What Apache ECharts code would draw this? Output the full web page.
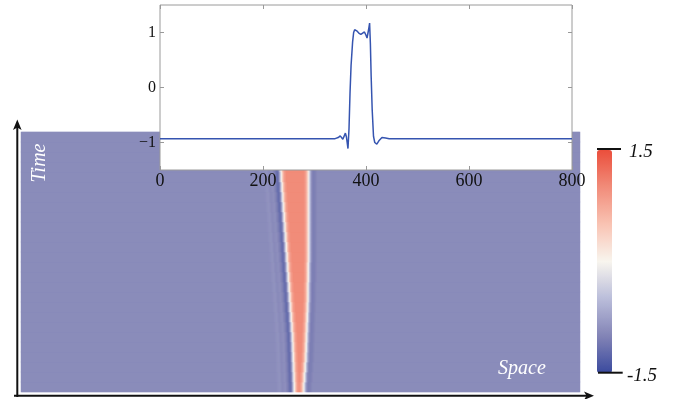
<!DOCTYPE html>
<html><head><meta charset="utf-8">
<script src="https://cdn.jsdelivr.net/npm/echarts@6/dist/echarts.min.js"></script>
<style>html,body{margin:0;padding:0;background:#fff}#c{width:690px;height:399px}</style>
</head><body><div id="c"></div>
<script>
// ---- inset: profile at final time (space, value) ----
const profileX = [0, 340, 346, 350, 355, 360, 362, 365, 367, 369, 371, 374, 376, 378, 382, 386, 390, 393, 397, 400, 402, 405, 407, 408.5, 410, 412, 414.6, 417, 421, 425, 431, 438, 445, 800];
const profileY = [-0.93, -0.93, -0.91, -0.88, -0.94, -0.83, -0.9, -1.11, -0.75, -0.09, 0.4, 0.83, 1.0, 1.05, 1.03, 0.99, 0.965, 0.98, 1.01, 0.95, 0.9, 1.05, 1.17, 0.8, 0.21, -0.4, -0.89, -1.0, -1.03, -0.97, -0.91, -0.92, -0.93, -0.93];
const insetXTicks = [0, 200, 400, 600, 800];
const insetYTicks = [-1, 0, 1];
const arrowLeft = [[351, 0.4], [298, 0.4]];
const arrowRight = [[427, 0.4], [450, 0.4]];

// ---- space-time map ----
const spaceMax = 800;
const nCols = 559;                // one column per screen pixel of the map
// front positions (space units) per time row, row 0 = first time (bottom)
const leftFront  = [391.5, 391, 390.5, 390, 389.5, 389, 388, 387, 386, 385, 384, 383, 382, 381, 380, 379, 378, 377, 376, 375, 374, 373, 372.5, 372, 371, 370.5];
const rightFront = [405, 406, 407, 408, 408.5, 409, 409.5, 410, 410.5, 411, 411, 411.5, 411.5, 412, 412, 412, 412, 412, 412, 412, 412, 412, 412, 412, 412, 412];
// value profile across each front (offset from the front in space units)
const leftOffsets  = [-26, -21, -17, -13, -9, -6, -4, -2, 0, 2, 4, 7];
const leftValues   = [-0.93, -0.87, -0.95, -0.9, -1.05, -1.22, -1.1, -0.55, 0, 0.5, 0.82, 1.0];
const rightOffsets = [-7, -4, -2, 0, 2, 4, 6, 9, 13];
const rightValues  = [1.0, 0.8, 0.45, 0, -0.5, -0.9, -1.05, -1.03, -0.93];
const baseValue = -0.93;
const plateauValue = 1.0;
const colorStops = ['#3a4a9e', '#8384b6', '#babdda', '#f8f5ee', '#f9c3b3', '#f18c7a', '#eb4e3b'];

function profileAt(offs, vals, d, below, above) {
  if (d <= offs[0]) return below;
  if (d >= offs[offs.length - 1]) return above;
  let i = 0;
  while (offs[i + 1] < d) i++;
  const t = (d - offs[i]) / (offs[i + 1] - offs[i]);
  return vals[i] + t * (vals[i + 1] - vals[i]);
}

const spaceBins = [];
for (let i = 0; i < nCols; i++) spaceBins.push(((i + 0.5) * spaceMax / nCols).toFixed(2));
const timeRows = leftFront.map((_, i) => String(i));
const heat = [];
for (let r = 0; r < timeRows.length; r++) {
  for (let c = 0; c < nCols; c++) {
    const x = (c + 0.5) * spaceMax / nCols;
    const a = profileAt(leftOffsets, leftValues, x - leftFront[r], baseValue, plateauValue);
    const b = profileAt(rightOffsets, rightValues, x - rightFront[r], plateauValue, baseValue);
    heat.push([c, r, Math.min(a, b)]);
  }
}
const profile = profileX.map((x, i) => [x, profileY[i]]);

const serif = 'Liberation Serif, DejaVu Serif, serif';
const fmtY = v => v < 0 ? '\u2212' + Math.abs(v) : String(v);
const tickStyle = {inside: true, length: 4, lineStyle: {color: '#999', width: 1}};
const noLine = {show: false, onZero: false};

const chart = echarts.init(document.getElementById('c'), null, {renderer: 'canvas'});
chart.setOption({
  animation: false,
  backgroundColor: '#fff',
  grid: [
    {left: 21, top: 132, width: 559, height: 260, show: true, backgroundColor: '#8b8cbb', borderWidth: 0},
    {left: 160, top: 5, width: 412, height: 165, show: true, backgroundColor: '#fff', borderColor: '#9a9a9a', borderWidth: 1, z: 10}
  ],
  xAxis: [
    {type: 'category', gridIndex: 0, data: spaceBins, show: false},
    {type: 'value', gridIndex: 1, min: 0, max: 800, interval: 200, position: 'bottom', z: 12,
     axisLine: noLine, axisTick: Object.assign({customValues: insetXTicks}, tickStyle), splitLine: {show: false},
     axisLabel: {customValues: insetXTicks, color: '#111', fontFamily: serif, fontSize: 18, margin: 2}},
    {type: 'value', gridIndex: 1, min: 0, max: 800, interval: 200, position: 'top', z: 12,
     axisLine: noLine, axisTick: Object.assign({customValues: insetXTicks}, tickStyle), splitLine: {show: false},
     axisLabel: {show: false}}
  ],
  yAxis: [
    {type: 'category', gridIndex: 0, data: timeRows, show: false},
    {type: 'value', gridIndex: 1, min: -1.5, max: 1.5, position: 'left', z: 12,
     axisLine: noLine, axisTick: Object.assign({customValues: insetYTicks}, tickStyle), splitLine: {show: false},
     axisLabel: {customValues: insetYTicks, formatter: fmtY, color: '#111', fontFamily: serif, fontSize: 16, margin: 4}},
    {type: 'value', gridIndex: 1, min: -1.5, max: 1.5, position: 'right', z: 12,
     axisLine: noLine, axisTick: Object.assign({customValues: insetYTicks}, tickStyle), splitLine: {show: false},
     axisLabel: {show: false}}
  ],
  visualMap: {
    type: 'continuous', min: -1.5, max: 1.5, seriesIndex: 0, calculable: false,
    left: 597, top: 150, itemWidth: 15, itemHeight: 223, padding: 0,
    inRange: {color: colorStops}, textStyle: {color: 'transparent'}
  },
  series: [
    {type: 'heatmap', xAxisIndex: 0, yAxisIndex: 0, data: heat, z: 1, progressive: 0, itemStyle: {borderWidth: 0}},
    {type: 'line', xAxisIndex: 1, yAxisIndex: 1, data: profile, showSymbol: false, z: 11,
     lineStyle: {color: '#3554b0', width: 1.5},
     markLine: {silent: true, symbol: ['none', 'arrow'], symbolSize: 6, label: {show: false},
       lineStyle: {color: '#111', width: 1.3, type: 'solid'},
       data: [[{coord: arrowLeft[0]}, {coord: arrowLeft[1]}], [{coord: arrowRight[0]}, {coord: arrowRight[1]}]]}}
  ],
  graphic: [
    {type: 'line', shape: {x1: 17.3, y1: 397, x2: 17.3, y2: 127}, style: {stroke: '#111', lineWidth: 2}, z: 20},
    {type: 'polygon', shape: {points: [[17.3, 119.5], [13, 130], [17.3, 127.5], [21.6, 130]]}, style: {fill: '#111'}, z: 20},
    {type: 'line', shape: {x1: 14, y1: 395.7, x2: 587, y2: 395.7}, style: {stroke: '#111', lineWidth: 2}, z: 20},
    {type: 'polygon', shape: {points: [[594, 395.7], [584, 391.5], [586.5, 395.7], [584, 400]]}, style: {fill: '#111'}, z: 20},
    {type: 'line', shape: {x1: 597, y1: 149, x2: 621, y2: 149}, style: {stroke: '#111', lineWidth: 2}, z: 20},
    {type: 'line', shape: {x1: 598, y1: 372.7, x2: 622.7, y2: 372.7}, style: {stroke: '#111', lineWidth: 2}, z: 20},
    {type: 'text', x: 629, y: 152, style: {text: '1.5', fill: '#111', font: 'italic 19px ' + serif, textVerticalAlign: 'middle'}, z: 20},
    {type: 'text', x: 627, y: 376, style: {text: '-1.5', fill: '#111', font: 'italic 19px ' + serif, textVerticalAlign: 'middle'}, z: 20},
    {type: 'text', x: 40, y: 163, rotation: Math.PI / 2, style: {text: 'Time', fill: '#fff', font: 'italic 20px ' + serif, textAlign: 'center', textVerticalAlign: 'middle'}, z: 20},
    {type: 'text', x: 522, y: 369, style: {text: 'Space', fill: '#fff', font: 'italic 20px ' + serif, textAlign: 'center', textVerticalAlign: 'middle'}, z: 20}
  ]
});
</script></body></html>
